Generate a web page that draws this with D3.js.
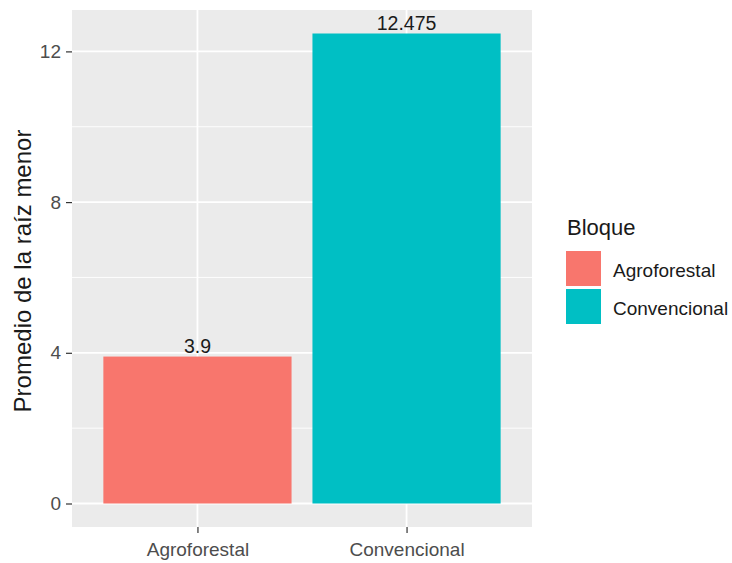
<!DOCTYPE html>
<html><head><meta charset="utf-8">
<script src="https://cdn.jsdelivr.net/npm/d3@7"></script>
<style>body{margin:0;background:#fff}svg{display:block;font-family:"Liberation Sans",Arial,sans-serif}</style>
</head><body>
<svg id="c" width="732" height="563"></svg>
<script>
const categories = ["Agroforestal", "Convencional"];
const values = [3.9, 12.475];
const labels = ["3.9", "12.475"];
const colors = ["#F8766D", "#00BFC4"];
const yTicks = [0, 4, 8, 12];
const yMinor = [2, 6, 10];
const legendTitle = "Bloque";
const yTitle = "Promedio de la raíz menor";

const svg = d3.select("#c");
const L = 72, R = 532, T = 10, B = 527;
const maxV = d3.max(values);
const y = d3.scaleLinear().domain([-maxV*0.05, maxV*1.05]).range([B, T]);
const xc = d3.scalePoint().domain(categories).range([L + (R-L)*0.6/2.2, R - (R-L)*0.6/2.2]);
const step = (R-L)/2.2;
const bw = step*0.9;
const FONT = "Liberation Sans, Arial, sans-serif";

svg.append("rect").attr("x",L).attr("y",T).attr("width",R-L).attr("height",B-T).attr("fill","#EBEBEB");
svg.selectAll(".mn").data(yMinor).enter().append("line")
  .attr("x1",L).attr("x2",R).attr("y1",d=>y(d)).attr("y2",d=>y(d))
  .attr("stroke","#fff").attr("stroke-width",0.9);
svg.selectAll(".mj").data(yTicks).enter().append("line")
  .attr("x1",L).attr("x2",R).attr("y1",d=>y(d)).attr("y2",d=>y(d))
  .attr("stroke","#fff").attr("stroke-width",1.8);
svg.selectAll(".vx").data(categories).enter().append("line")
  .attr("x1",d=>xc(d)).attr("x2",d=>xc(d)).attr("y1",T).attr("y2",B)
  .attr("stroke","#fff").attr("stroke-width",1.8);

svg.selectAll(".bar").data(categories).enter().append("rect")
  .attr("x",d=>xc(d)-bw/2).attr("width",bw)
  .attr("y",(d,i)=>y(values[i])).attr("height",(d,i)=>y(0)-y(values[i]))
  .attr("fill",(d,i)=>colors[i]);

svg.selectAll(".lab").data(categories).enter().append("text")
  .attr("x",d=>xc(d)).attr("y",(d,i)=>y(values[i])-4)
  .attr("text-anchor","middle").attr("font-size",19.5).attr("fill","#1a1a1a")
  .text((d,i)=>labels[i]);

// y axis
const yAxis = svg.append("g").attr("transform",`translate(${L},0)`)
  .call(d3.axisLeft(y).tickValues(yTicks).tickSize(6).tickPadding(5).tickFormat(d3.format("d")));
yAxis.attr("font-size",19).attr("font-family",FONT);
yAxis.select(".domain").remove();
yAxis.selectAll("line").attr("stroke","#333").attr("stroke-width",1.2);
yAxis.selectAll("text").attr("fill","#4D4D4D");

const xAxis = svg.append("g").attr("transform",`translate(0,${B})`)
  .call(d3.axisBottom(xc).tickSize(6).tickPadding(9.5));
xAxis.attr("font-size",19).attr("font-family",FONT);
xAxis.select(".domain").remove();
xAxis.selectAll("line").attr("stroke","#333").attr("stroke-width",1.2);
xAxis.selectAll("text").attr("fill","#4D4D4D");

svg.append("text").attr("transform",`translate(31,${271}) rotate(-90)`)
  .attr("text-anchor","middle").attr("font-size",24).attr("fill","#1a1a1a").text(yTitle);

// legend
const lg = svg.append("g");
lg.append("text").attr("x",567).attr("y",235).attr("font-size",22).attr("fill","#1a1a1a").text(legendTitle);
categories.forEach((c,i)=>{
  const yy = 251 + i*38;
  lg.append("rect").attr("x",566).attr("y",yy).attr("width",35).attr("height",35).attr("fill",colors[i]);
  lg.append("text").attr("x",613).attr("y",yy+26).attr("font-size",19).attr("fill","#1a1a1a").text(c);
});
</script>
</body></html>
